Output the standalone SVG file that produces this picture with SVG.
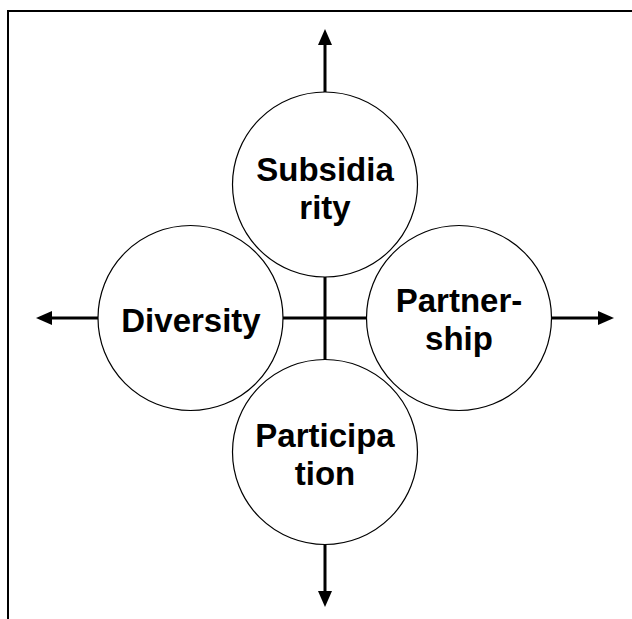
<svg xmlns="http://www.w3.org/2000/svg" width="632" height="619" viewBox="0 0 632 619">
<defs>
<style>
.frame{fill:none;stroke:#000;stroke-width:2}
.ax{stroke:#000;stroke-width:3;fill:none}
.head{fill:#000}
.node circle{fill:#fff;stroke:#000;stroke-width:1.2}
.node text{font-family:"Liberation Sans",Arial,sans-serif;font-weight:bold;font-size:33px;text-anchor:middle;fill:#000}
</style>
</defs>
<rect width="632" height="619" fill="#fff"/>
<path class="frame" d="M8,619 V11 H632"/>
<g id="connectors">
<line class="ax" x1="325" y1="44" x2="325" y2="593"/>
<line class="ax" x1="51" y1="318" x2="600" y2="318"/>
<polygon class="head" points="325,29 318,45 332,45"/>
<polygon class="head" points="325,607 318,591 332,591"/>
<polygon class="head" points="36,318 52,311 52,325"/>
<polygon class="head" points="614,318 598,311 598,325"/>
</g>
<g id="subsidiarity" class="node">
<circle cx="325" cy="184.5" r="92.5"/>
<text x="325" y="181">Subsidia</text>
<text x="325" y="219">rity</text>
</g>
<g id="diversity" class="node">
<circle cx="190.5" cy="318" r="92.5"/>
<text x="191" y="332">Diversity</text>
</g>
<g id="partnership" class="node">
<circle cx="459" cy="318" r="92.5"/>
<text x="459" y="312">Partner-</text>
<text x="459" y="350">ship</text>
</g>
<g id="participation" class="node">
<circle cx="325" cy="452" r="92.5"/>
<text x="325" y="447">Participa</text>
<text x="325" y="485">tion</text>
</g>
</svg>
